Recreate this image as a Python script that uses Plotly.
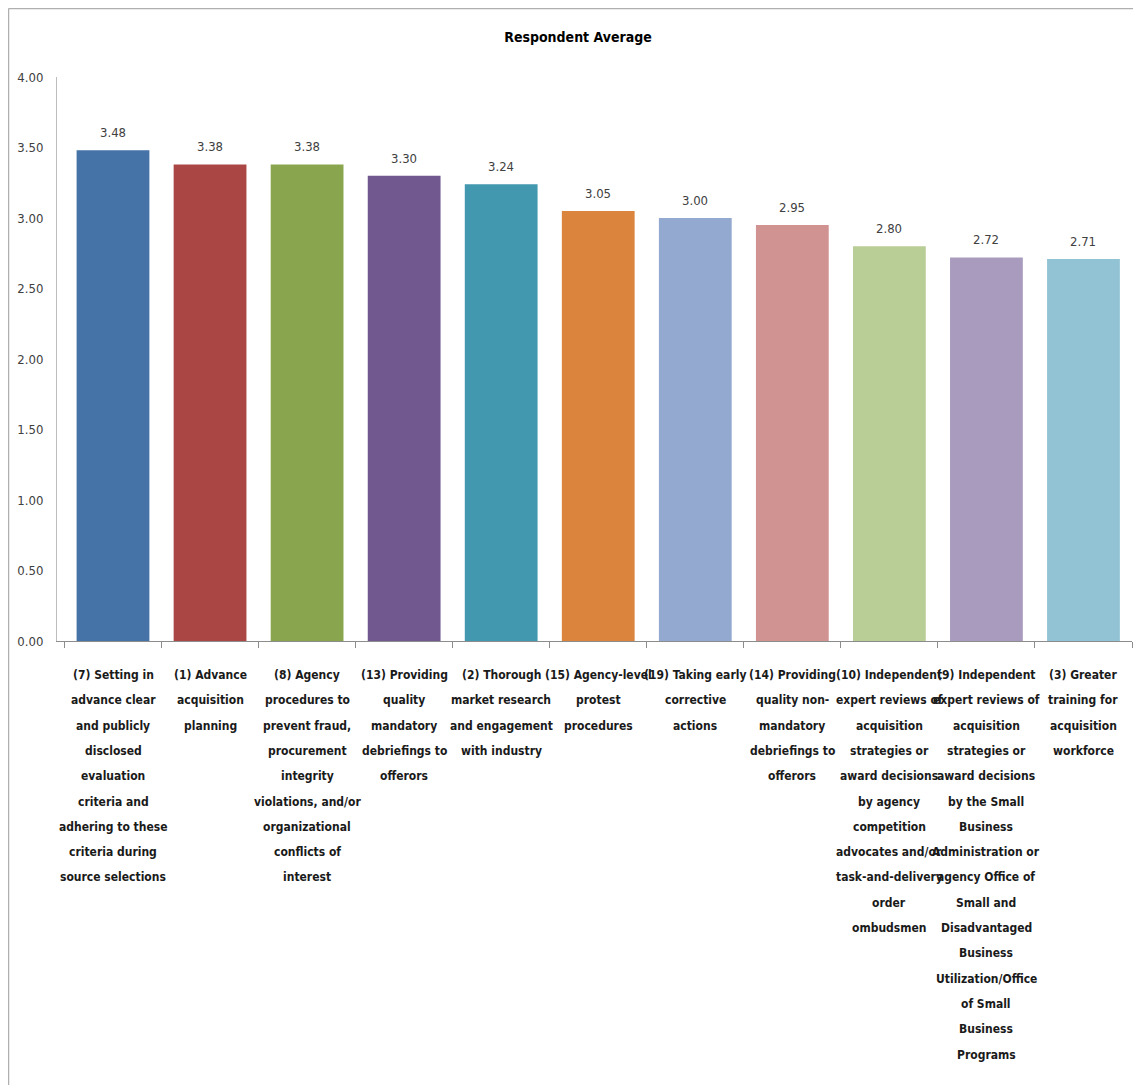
import plotly.graph_objects as go

categories = [
    "(7) Setting in<br>advance clear<br>and publicly<br>disclosed<br>evaluation<br>criteria and<br>adhering to these<br>criteria during<br>source selections",
    "(1) Advance<br>acquisition<br>planning",
    "(8) Agency<br>procedures to<br>prevent fraud,<br>procurement<br>integrity<br>violations, and/or<br>organizational<br>conflicts of<br>interest",
    "(13) Providing<br>quality<br>mandatory<br>debriefings to<br>offerors",
    "(2) Thorough<br>market research<br>and engagement<br>with industry",
    "(15) Agency-level<br>protest<br>procedures",
    "(19) Taking early<br>corrective<br>actions",
    "(14) Providing<br>quality non-<br>mandatory<br>debriefings to<br>offerors",
    "(10) Independent<br>expert reviews of<br>acquisition<br>strategies or<br>award decisions<br>by agency<br>competition<br>advocates and/or<br>task-and-delivery<br>order<br>ombudsmen",
    "(9) Independent<br>expert reviews of<br>acquisition<br>strategies or<br>award decisions<br>by the Small<br>Business<br>Administration or<br>agency Office of<br>Small and<br>Disadvantaged<br>Business<br>Utilization/Office<br>of Small<br>Business<br>Programs",
    "(3) Greater<br>training for<br>acquisition<br>workforce",
]
values = [3.48, 3.38, 3.38, 3.30, 3.24, 3.05, 3.00, 2.95, 2.80, 2.72, 2.71]
colors = ["#4572A7", "#AA4643", "#89A54E", "#71588F", "#4198AF", "#DB843D",
          "#93A9CF", "#D19392", "#B9CD96", "#A99BBD", "#92C3D5"]
y_ticks = [0, 0.5, 1.0, 1.5, 2.0, 2.5, 3.0, 3.5, 4.0]
y_ticktext = ["0.00", "0.50", "1.00", "1.50", "2.00", "2.50", "3.00", "3.50", "4.00"]
title_text = "Respondent Average"

# page has an 8px body margin; figure coordinates are page coordinates - 8
W, H = 1133, 1077
ML, MR, MT, MB = 49, 9, 69, 444
FONT = "DejaVu Sans Condensed, Liberation Sans Narrow, sans-serif"

fig = go.Figure()
fig.add_trace(go.Bar(
    x=categories, y=values,
    marker=dict(color=colors, line=dict(width=0)),
    hoverinfo="skip",
))

annotations = []
# value labels
for c, v in zip(categories, values):
    annotations.append(dict(
        x=c, y=v, xref="x", yref="y", text=f"{v:.2f}", showarrow=False,
        yanchor="bottom", yshift=8,
        font=dict(family=FONT, size=13, color="#404040"),
    ))
# category labels, line by line
LINE = 25.3
for c in categories:
    for i, line in enumerate(c.split("<br>")):
        annotations.append(dict(
            x=c, y=0, xref="x", yref="paper", text=f"<b>{line}</b>",
            showarrow=False, yanchor="middle", yshift=-34 - LINE * i,
            font=dict(family=FONT, size=12, color="#1a1a1a"),
        ))

plot_w = W - ML - MR
plot_h = H - MT - MB
def px_x(p):
    return (p - ML) / plot_w
def px_y(p):
    return (H - MB - p) / plot_h

shapes = [
    dict(type="line", xref="paper", yref="paper", x0=px_x(0.5), x1=px_x(0.5),
         y0=px_y(0.5), y1=px_y(H + 5), line=dict(color="#AFAFAF", width=1.5)),
    dict(type="line", xref="paper", yref="paper", x0=px_x(0.5), x1=px_x(W + 5),
         y0=px_y(0.5), y1=px_y(0.5), line=dict(color="#AFAFAF", width=1.5)),
]

fig.update_layout(
    width=W, height=H,
    margin=dict(l=ML, r=MR, t=MT, b=MB),
    paper_bgcolor="white", plot_bgcolor="white",
    bargap=0.25, showlegend=False,
    title=dict(text=f"<b>{title_text}</b>", x=570 / W, xref="container",
               y=1 - 29 / H, yref="container", yanchor="middle", xanchor="center",
               font=dict(family=FONT, size=14, color="#000000")),
    annotations=annotations, shapes=shapes,
    xaxis=dict(showticklabels=False, showgrid=False, zeroline=False,
               showline=True, linecolor="#8C8C8C", linewidth=1,
               ticks="outside", tickson="boundaries", ticklen=6,
               tickcolor="#8C8C8C", fixedrange=True),
    yaxis=dict(range=[0, 4], tickvals=y_ticks, ticktext=y_ticktext,
               showgrid=False, zeroline=False, showline=True,
               linecolor="#BDBDBD", linewidth=1, ticks="",
               ticklabelstandoff=10,
               tickfont=dict(family=FONT, size=13, color="#404040"),
               fixedrange=True),
)

fig.write_html("out.html")
